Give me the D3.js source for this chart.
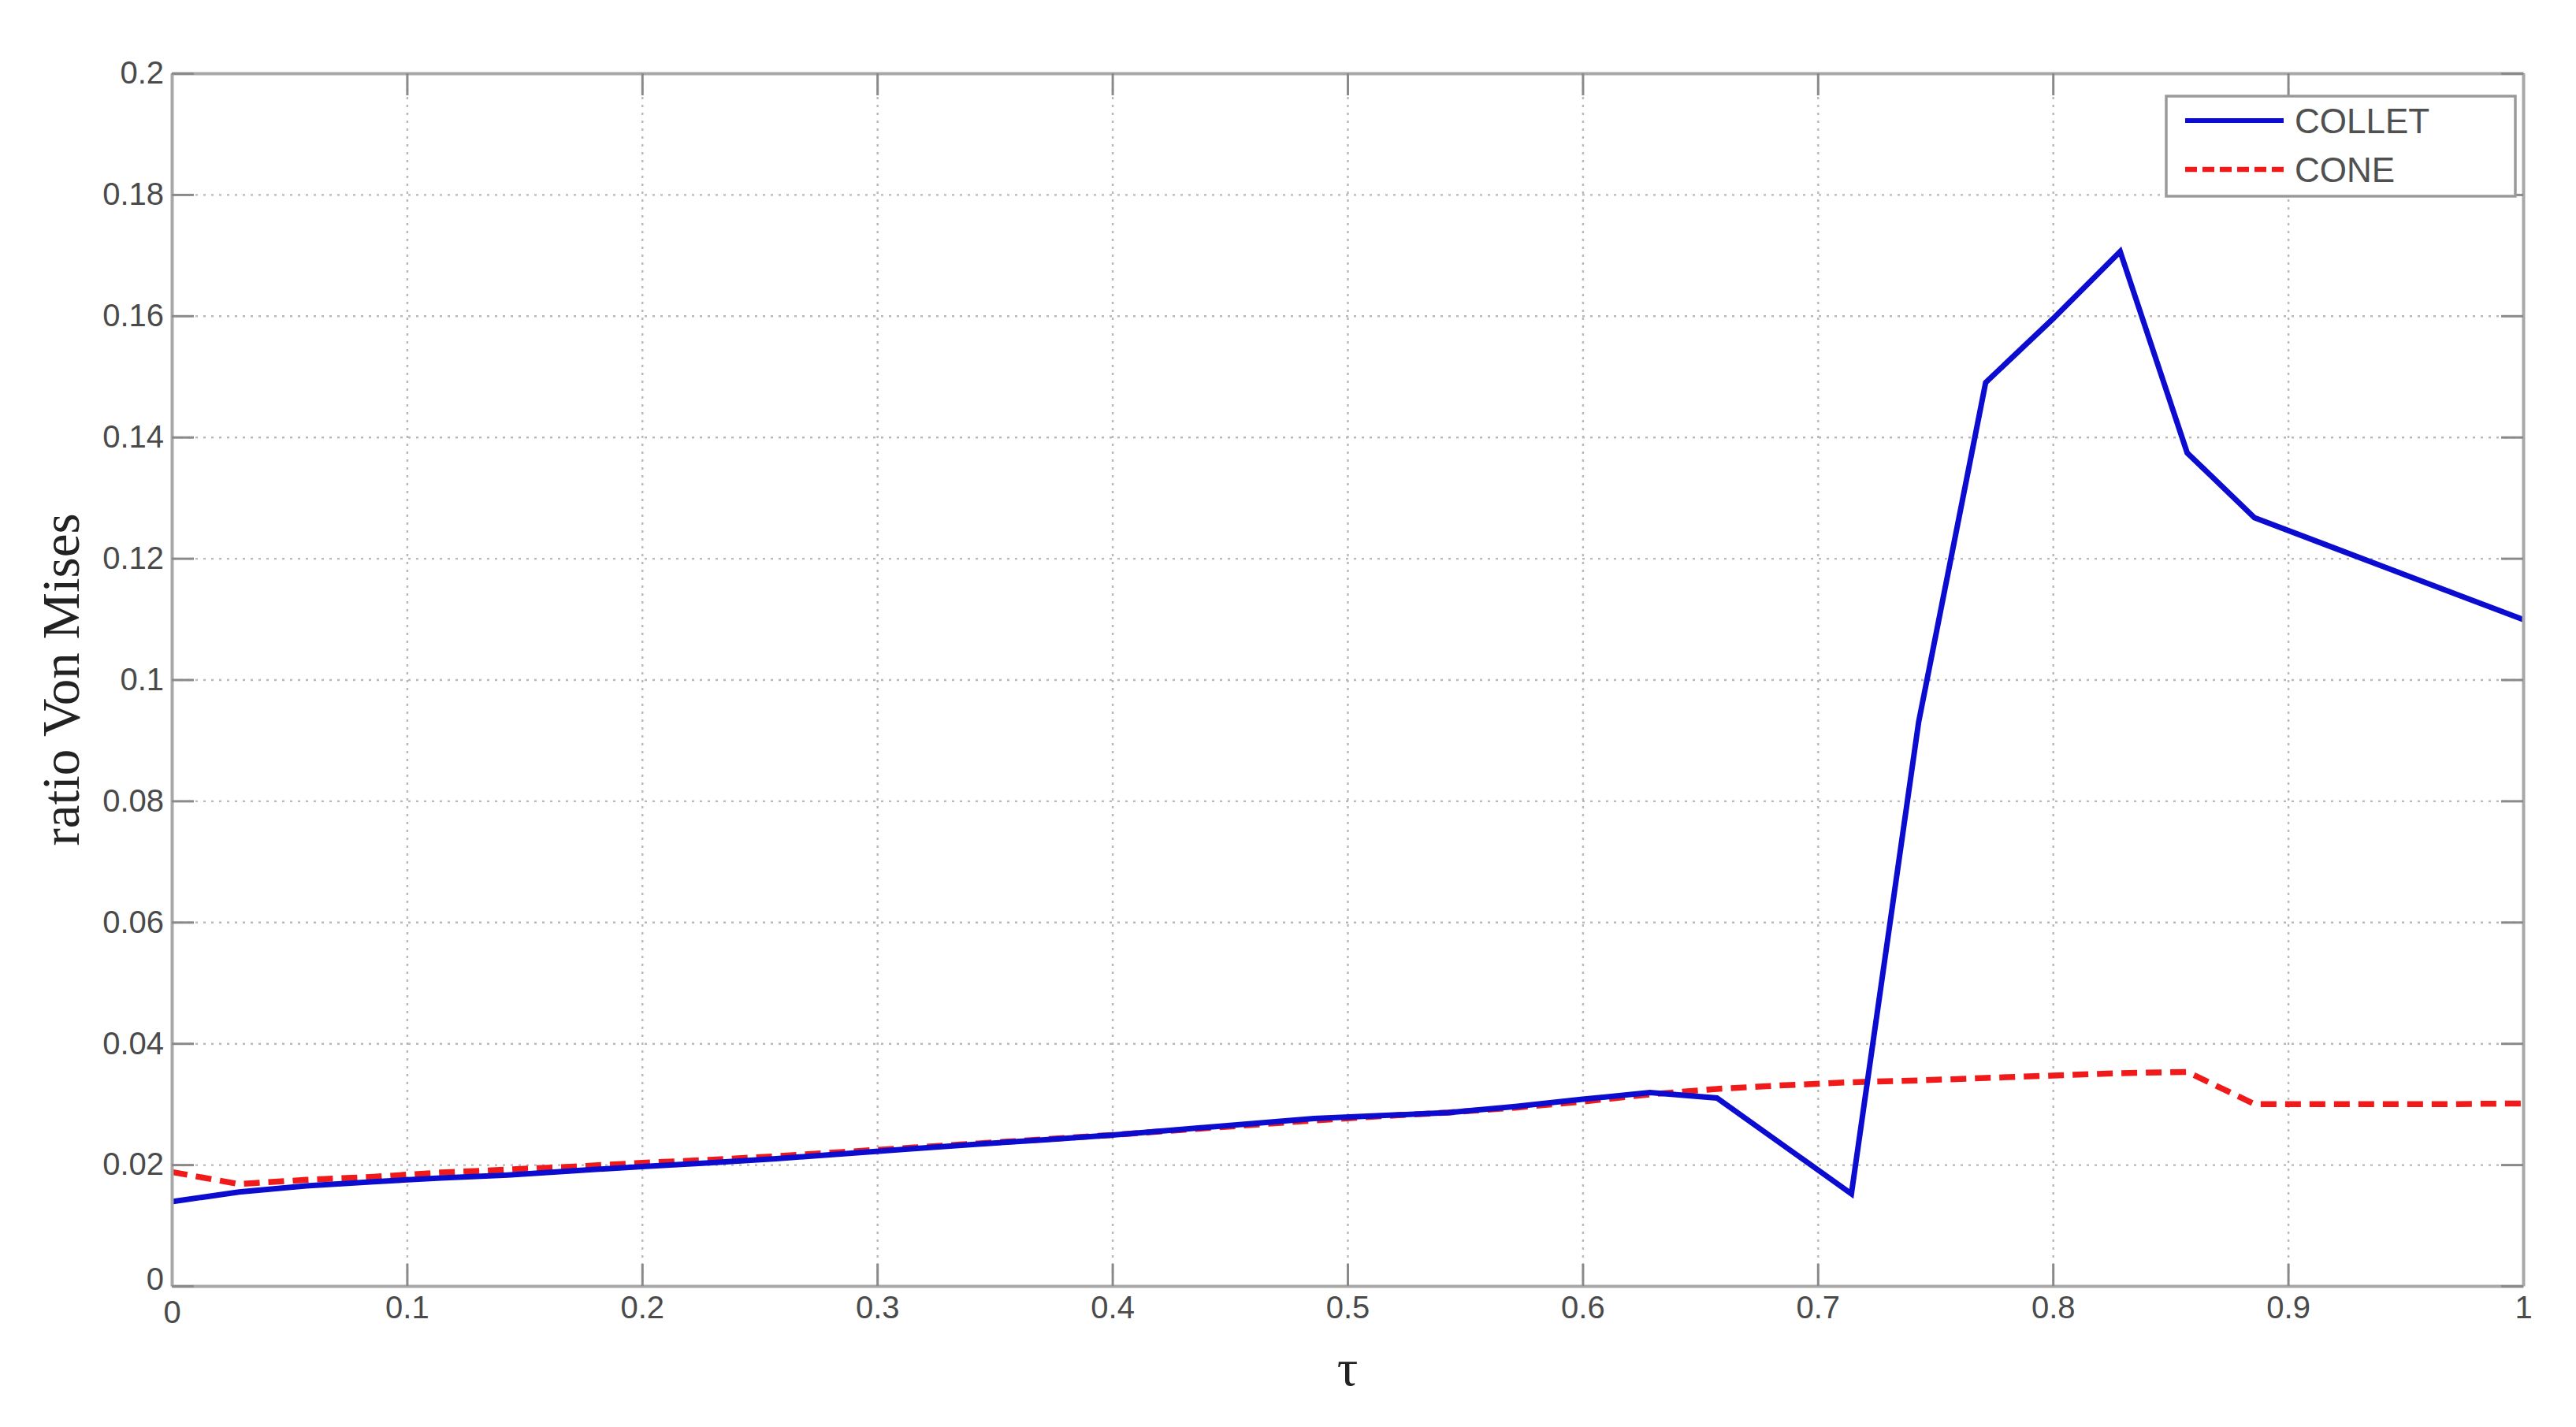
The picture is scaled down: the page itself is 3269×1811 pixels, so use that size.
<!DOCTYPE html>
<html>
<head>
<meta charset="utf-8">
<script src="https://cdn.jsdelivr.net/npm/d3@7"></script>
<style>
  html, body { margin: 0; padding: 0; background: #ffffff; }
  svg { display: block; }
</style>
</head>
<body>
<svg id="chart" width="3269" height="1811"></svg>
<script>
// ---- data ----
const tau = [0, 0.0286, 0.0571, 0.0857, 0.1143, 0.1429, 0.1714, 0.2, 0.2286, 0.2571,
             0.2857, 0.3143, 0.3429, 0.3714, 0.4, 0.4286, 0.4571, 0.4857, 0.5143, 0.5429,
             0.5714, 0.6, 0.6286, 0.6571, 0.6857, 0.7143, 0.7429, 0.7714, 0.8, 0.8286,
             0.8571, 0.8857, 0.9143, 0.9429, 0.9714, 1.0];
const collet = [0.0139, 0.0155, 0.0165, 0.0172, 0.0178, 0.0183, 0.0190, 0.0197, 0.0203, 0.0210,
                0.0218, 0.0226, 0.0234, 0.0241, 0.0249, 0.0258, 0.0267, 0.0276, 0.0281, 0.0286,
                0.0296, 0.0308, 0.0319, 0.0310, 0.0231, 0.0152, 0.0930, 0.1490, 0.1595, 0.1706,
                0.1374, 0.1267, 0.1225, 0.1183, 0.1141, 0.1099];
const cone = [0.0188, 0.0168, 0.0175, 0.0180, 0.0187, 0.0192, 0.0197, 0.0203, 0.0208, 0.0214,
              0.0221, 0.0228, 0.0235, 0.0242, 0.0249, 0.0257, 0.0265, 0.0273, 0.0280, 0.0286,
              0.0294, 0.0304, 0.0316, 0.0325, 0.0331, 0.0336, 0.0339, 0.0343, 0.0347, 0.0351,
              0.0353, 0.0300, 0.0300, 0.0300, 0.0300, 0.0301];
const seriesNames = ["COLLET", "CONE"];
const xTicks = [0, 0.1, 0.2, 0.3, 0.4, 0.5, 0.6, 0.7, 0.8, 0.9, 1];
const yTicks = [0, 0.02, 0.04, 0.06, 0.08, 0.1, 0.12, 0.14, 0.16, 0.18, 0.2];
const xLabel = "τ";
const yLabel = "ratio Von Mises";

// ---- layout ----
const W = 3269, H = 1811;
const margin = { left: 218, top: 93, right: 67, bottom: 179 };
const pw = W - margin.left - margin.right;
const ph = H - margin.top - margin.bottom;

const svg = d3.select("#chart");
svg.append("rect").attr("width", W).attr("height", H).attr("fill", "#ffffff");
const g = svg.append("g").attr("transform", `translate(${margin.left},${margin.top})`);

const x = d3.scaleLinear().domain([0, 1]).range([0, pw]);
const y = d3.scaleLinear().domain([0, 0.2]).range([ph, 0]);

const fmt = d => (d === 0 ? "0" : String(+d.toFixed(2)));
const tickFont = "'Liberation Sans', Arial, Helvetica, sans-serif";

// grid
const gridX = g.append("g").attr("class", "gridx")
  .call(d3.axisBottom(x).tickValues(xTicks).tickSize(ph).tickFormat(""));
gridX.select(".domain").remove();
gridX.selectAll("line").attr("stroke", "#b8b8b8").attr("stroke-width", 2.4)
  .attr("stroke-dasharray", "3,7");
const gridY = g.append("g").attr("class", "gridy")
  .call(d3.axisLeft(y).tickValues(yTicks).tickSize(-pw).tickFormat(""));
gridY.select(".domain").remove();
gridY.selectAll("line").attr("stroke", "#b8b8b8").attr("stroke-width", 2.4)
  .attr("stroke-dasharray", "3,7");

// lines
const line = d3.line().x((d, i) => x(tau[i])).y(d => y(d));
g.append("path").datum(cone)
  .attr("fill", "none").attr("stroke", "#f01a1a").attr("stroke-width", 7.5)
  .attr("stroke-dasharray", "20,11").attr("d", line);
g.append("path").datum(collet)
  .attr("fill", "none").attr("stroke", "#0c0cd0").attr("stroke-width", 7)
  .attr("stroke-linejoin", "miter").attr("d", line);

// axes (box with inward ticks)
function styleAxis(sel) {
  sel.select(".domain").attr("stroke", "#a8a8a8").attr("stroke-width", 4);
  sel.selectAll(".tick line").attr("stroke", "#8a8a8a").attr("stroke-width", 3);
  sel.selectAll(".tick text").attr("fill", "#4a4a4a")
    .attr("font-family", tickFont).attr("font-size", 40);
}
const tickLen = 28;
const xb = g.append("g").attr("transform", `translate(0,${ph})`)
  .call(d3.axisBottom(x).tickValues(xTicks).tickFormat(fmt)
    .tickSizeInner(-tickLen).tickSizeOuter(0).tickPadding(13));
styleAxis(xb);
const xt = g.append("g")
  .call(d3.axisTop(x).tickValues(xTicks).tickFormat("")
    .tickSizeInner(-tickLen).tickSizeOuter(0));
styleAxis(xt);
const yl = g.append("g")
  .call(d3.axisLeft(y).tickValues(yTicks).tickFormat(fmt)
    .tickSizeInner(-tickLen).tickSizeOuter(0).tickPadding(10));
styleAxis(yl);
const yr = g.append("g").attr("transform", `translate(${pw},0)`)
  .call(d3.axisRight(y).tickValues(yTicks).tickFormat("")
    .tickSizeInner(-tickLen).tickSizeOuter(0));
styleAxis(yr);
// the "0" on the y axis sits slightly above the corner as in the reference
yl.selectAll(".tick text").filter(d => d === 0).attr("dy", "0.1em");
xb.selectAll(".tick text").filter(d => d === 0).attr("dy", "0.85em");

// axis titles
svg.append("text")
  .attr("x", margin.left + x(0.5)).attr("y", 1758)
  .attr("text-anchor", "middle")
  .attr("font-family", "'Liberation Serif', 'Times New Roman', serif")
  .attr("font-size", 66).attr("fill", "#222")
  .text(xLabel);
svg.append("text")
  .attr("transform", `translate(100,${margin.top + ph / 2}) rotate(-90)`)
  .attr("text-anchor", "middle")
  .attr("font-family", "'Liberation Serif', 'Times New Roman', serif")
  .attr("font-size", 67).attr("fill", "#222")
  .text(yLabel);

// legend
const lg = svg.append("g").attr("transform", "translate(2749,122)");
lg.append("rect").attr("width", 443).attr("height", 127)
  .attr("fill", "#ffffff").attr("stroke", "#9a9a9a").attr("stroke-width", 3.5);
const legendStyles = [
  { color: "#0c0cd0", dash: null, w: 6 },
  { color: "#f01a1a", dash: "15,7", w: 6.5 }
];
seriesNames.forEach((name, i) => {
  const yy = 31 + i * 62;
  lg.append("line").attr("x1", 24).attr("x2", 149).attr("y1", yy).attr("y2", yy)
    .attr("stroke", legendStyles[i].color).attr("stroke-width", legendStyles[i].w)
    .attr("stroke-dasharray", legendStyles[i].dash);
  lg.append("text").attr("x", 163).attr("y", yy).attr("dy", "0.36em")
    .attr("font-family", tickFont).attr("font-size", 44).attr("fill", "#505050")
    .text(name);
});
</script>
</body>
</html>
